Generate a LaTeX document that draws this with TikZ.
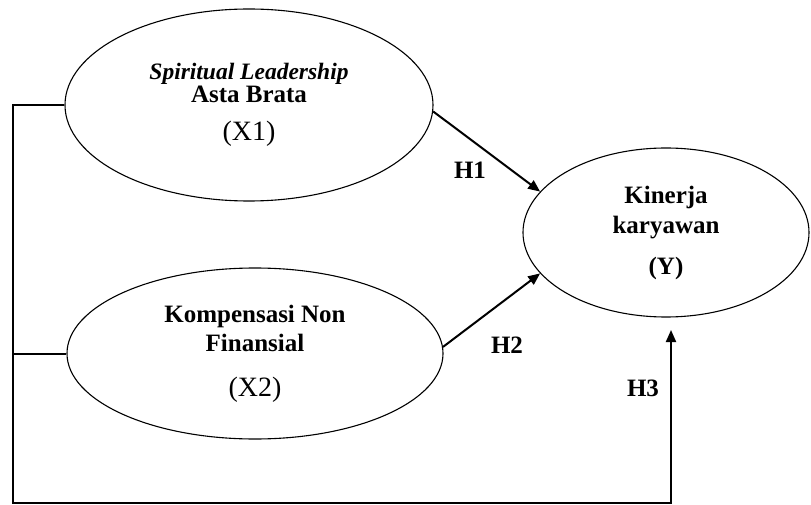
\documentclass[tikz,border=0pt]{standalone}
\usepackage{fontspec}
\setmainfont{Liberation Serif}
\usetikzlibrary{shapes.geometric,arrows.meta}

\tikzset{
	variabel/.style={draw, ellipse, line width=1.1pt, inner sep=0pt, align=center, font=\fontsize{25}{29}\selectfont\bfseries},
	panah/.style={line width=2pt, -{Triangle[length=12pt,width=10pt]}},
	garis/.style={line width=2pt},
	hipotesis/.style={font=\fontsize{25}{29}\selectfont\bfseries}
}

\begin{document}
\begin{tikzpicture}[x=1pt,y=1pt]
	\useasboundingbox (0,0) rectangle (811,504);
	\node[variabel, minimum width=368pt, minimum height=192pt] (x1) at (249,399) {{\fontsize{23.5}{29}\selectfont\bfseries\itshape Spiritual Leadership}\\[-6pt] Asta Brata\\[9pt] {\mdseries\fontsize{28}{29}\selectfont (X1)}};
	\node[variabel, minimum width=376pt, minimum height=171pt] (x2) at (255,150.5) {Kompensasi Non\\ Finansial\\[16pt] {\mdseries\fontsize{28}{29}\selectfont (X2)}};
	\node[variabel, minimum width=286pt, minimum height=169pt] (y) at (666,271.5) {Kinerja\\[1pt] karyawan\\[12pt] (Y)};
	\node[hipotesis] (h1) at (470,334) {H1};
	\node[hipotesis] (h2) at (507,159) {H2};
	\node[hipotesis] (h3) at (643,116) {H3};
	\coordinate (kiri) at (13,1);
	\coordinate (kanan) at (671,1);
	\coordinate (ujung) at (671,174);
	\draw[panah] (x1.-2.5) -- (y.162);
	\draw[panah] (x2.2) -- (y.198.6);
	\draw[panah] (x1.west) -| (kiri) -- (kanan) -- (ujung);
	\draw[garis] (x2.west) -- (x2.west -| kiri);
\end{tikzpicture}
\end{document}
